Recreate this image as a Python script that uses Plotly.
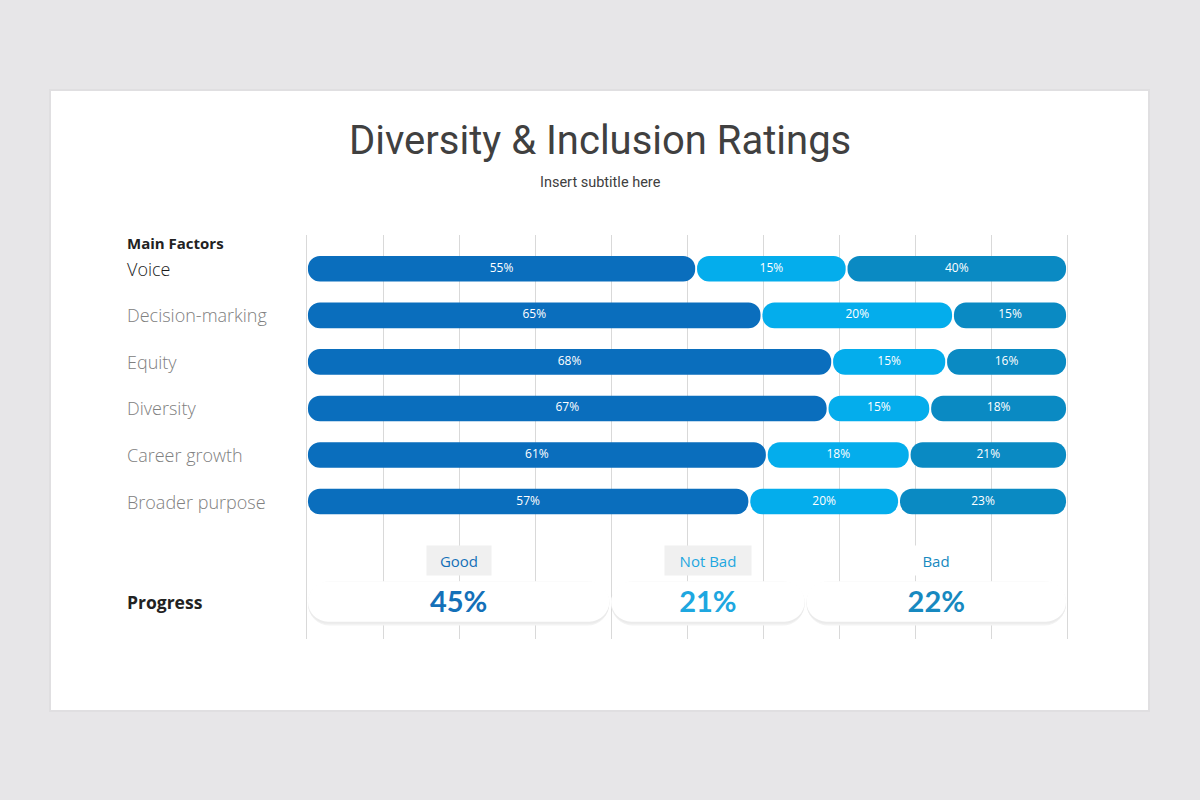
import plotly.graph_objects as go

# ---------------- data ----------------
factors = ["Voice", "Decision-marking", "Equity", "Diversity", "Career growth", "Broader purpose"]
# segment lengths as drawn on the 0-100 axis
good_len = [51.2, 59.8, 69.1, 68.5, 60.5, 58.2]
notbad_len = [19.8, 25.2, 15.0, 13.5, 18.8, 19.7]
bad_len = [29.0, 15.0, 15.9, 18.0, 20.7, 22.1]
# labels printed inside the segments
good_lbl = ["55%", "65%", "68%", "67%", "61%", "57%"]
notbad_lbl = ["15%", "20%", "15%", "15%", "18%", "20%"]
bad_lbl = ["40%", "15%", "16%", "18%", "21%", "23%"]
# progress row
progress_names = ["Good", "Not Bad", "Bad"]
progress_values = ["45%", "21%", "22%"]
progress_len = [39.9, 25.7, 34.4]

# ---------------- styles ----------------
C_GOOD = "#0a6ebd"
C_NOTBAD = "#04adec"
C_BAD = "#0a8ac3"
TXT_GOOD = "#1470b8"
TXT_NOTBAD = "#1ea7e0"
TXT_BAD = "#1789c0"
GAP = 0.25
BAR_W = 0.55
PROG_Y = 7.15
LABEL_Y = 6.27
HEAD_Y = -0.554
LABEL_BOX_W = [62, 84, 50]

fig = go.Figure()


def pill(starts, lengths, ys, color, width, yshift=0.0):
    bases = [s + GAP / 2 for s in starts]
    lens = [L - GAP for L in lengths]
    fig.add_trace(go.Bar(
        orientation="h", y=[y + yshift for y in ys], x=lens, base=bases,
        width=width, marker=dict(color=color, cornerradius="50%", line=dict(width=0)),
        hoverinfo="skip", showlegend=False,
    ))
    return [b + L / 2 for b, L in zip(bases, lens)]


rows = list(range(len(factors)))
good_start = [0.0] * len(factors)
notbad_start = [g for g in good_len]
bad_start = [g + n for g, n in zip(good_len, notbad_len)]

for starts, lens, lbls, col in [
    (good_start, good_len, good_lbl, C_GOOD),
    (notbad_start, notbad_len, notbad_lbl, C_NOTBAD),
    (bad_start, bad_len, bad_lbl, C_BAD),
]:
    mids = pill(starts, lens, rows, col, BAR_W)
    fig.add_trace(go.Scatter(
        x=mids, y=rows, mode="text", text=lbls,
        textfont=dict(color="white", size=12, family="Open Sans"),
        hoverinfo="skip", showlegend=False,
    ))

# progress pills
p_starts = []
acc = 0.0
for L in progress_len:
    p_starts.append(acc)
    acc += L
pill(p_starts, progress_len, [PROG_Y] * 3, "#f3f3f3", 0.95, yshift=0.04)
pill(p_starts, progress_len, [PROG_Y] * 3, "#ebebeb", 0.89, yshift=0.03)
p_mids = pill(p_starts, progress_len, [PROG_Y] * 3, "#ffffff", 0.86)
fig.add_trace(go.Scatter(
    x=p_mids, y=[PROG_Y + 0.07] * 3, mode="text", text=progress_values,
    textfont=dict(color=[TXT_GOOD, TXT_NOTBAD, TXT_BAD], size=29, family="Lato", weight="bold"),
    hoverinfo="skip", showlegend=False,
))

annotations = []
for name, xm, tc, bg, bw in zip(progress_names, p_mids, [TXT_GOOD, TXT_NOTBAD, TXT_BAD],
                                ["#f0f0f0", "#f0f0f0", "#ffffff"], LABEL_BOX_W):
    annotations.append(dict(
        x=xm, y=LABEL_Y, xref="x", yref="y", text=name, showarrow=False,
        font=dict(size=15, color=tc, family="Open Sans"), bgcolor=bg,
        width=bw, height=27, borderpad=1, xanchor="center", yanchor="middle",
    ))

LX = 125 / 1200
for i, f in enumerate(factors):
    annotations.append(dict(
        x=LX, y=i, xref="paper", yref="y", text=f, showarrow=False,
        xanchor="left", yanchor="middle",
        font=dict(size=18, color="#1a1a1a" if i == 0 else "#808080", family="Open Sans", weight=300),
    ))
annotations.append(dict(x=LX, y=HEAD_Y, xref="paper", yref="y", text="<b>Main Factors</b>",
                        showarrow=False, xanchor="left", yanchor="middle",
                        font=dict(size=15, color="#222222", family="Open Sans")))
annotations.append(dict(x=LX, y=PROG_Y, xref="paper", yref="y", text="<b>Progress</b>",
                        showarrow=False, xanchor="left", yanchor="middle",
                        font=dict(size=17.5, color="#222222", family="Open Sans")))
annotations.append(dict(x=0.5, y=1 - 140 / 800, xref="paper", yref="paper",
                        text="Diversity &amp; Inclusion Ratings", showarrow=False,
                        xanchor="center", yanchor="middle",
                        font=dict(size=40, color="#404040", family="Roboto")))
annotations.append(dict(x=0.5, y=1 - 182 / 800, xref="paper", yref="paper",
                        text="Insert subtitle here", showarrow=False,
                        xanchor="center", yanchor="middle",
                        font=dict(size=14.5, color="#404040", family="Roboto")))

shapes = [
    dict(type="rect", xref="paper", yref="paper", layer="below",
         x0=49 / 1200, x1=1150 / 1200, y0=1 - 712 / 800, y1=1 - 89 / 800,
         fillcolor="#e0dfe1", line=dict(width=0)),
    dict(type="rect", xref="paper", yref="paper", layer="below",
         x0=51 / 1200, x1=1148 / 1200, y0=1 - 710 / 800, y1=1 - 91 / 800,
         fillcolor="#ffffff", line=dict(width=0)),
]

fig.update_layout(
    width=1200, height=800, margin=dict(l=0, r=0, t=0, b=0),
    paper_bgcolor="#e7e6e8", plot_bgcolor="rgba(0,0,0,0)",
    barmode="overlay", showlegend=False,
    xaxis=dict(domain=[307 / 1200, 1067 / 1200], range=[0, 100], dtick=10,
               showgrid=True, gridcolor="#d9d9d9", gridwidth=1, zeroline=False,
               showticklabels=False, ticks="", showline=False, fixedrange=True),
    yaxis=dict(domain=[1 - 639 / 800, 1 - 235 / 800], range=[7.953, -0.726],
               showgrid=False, zeroline=False, showticklabels=False, ticks="",
               showline=True, mirror=True, linecolor="#d9d9d9", linewidth=1, fixedrange=True),
    annotations=annotations, shapes=shapes,
)

fig.write_html("out.html", config={"displayModeBar": False},
               post_script="document.body.style.margin='0';document.body.style.overflow='hidden';")
